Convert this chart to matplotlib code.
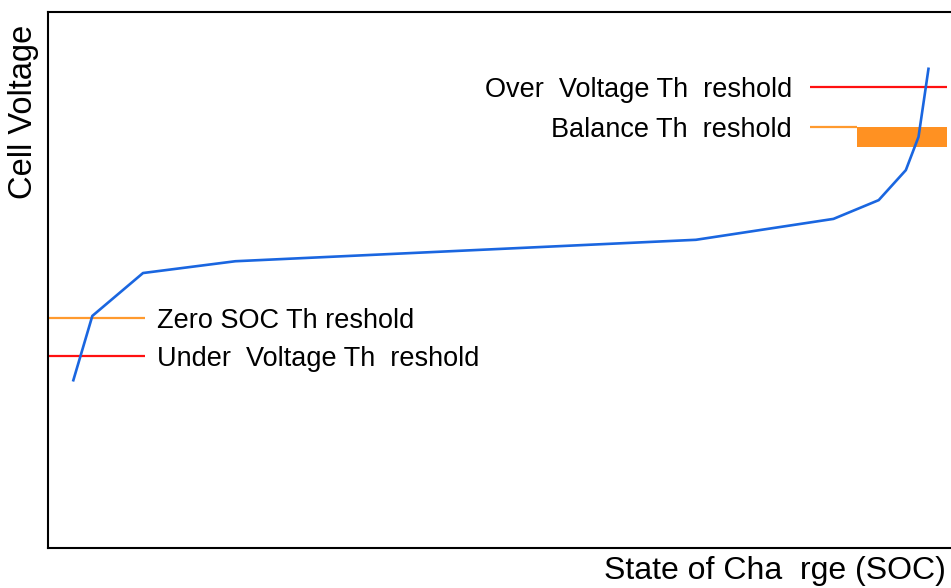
import matplotlib
matplotlib.use('Agg')
import matplotlib.pyplot as plt
from matplotlib.patches import Rectangle

# voltage curve, SOC (%) vs voltage (arbitrary units 0-100)
soc = [2.8, 4.9, 10.5, 20.7, 71.6, 86.8, 91.8, 94.8, 96.2, 96.8, 97.3]
voltage = [31.3, 43.3, 51.3, 53.5, 57.5, 61.4, 64.9, 70.5, 76.7, 83.6, 89.4]

# thresholds
over_v = 86.0
balance_v = 78.5
balance_low = 74.8
zero_soc_v = 42.9
under_v = 35.8

low_span = (0, 10.7)
high_span = (84.2, 99.3)
balance_box_x = 89.4

red = '#ff1010'
orange = '#ff9a2e'
blue = '#1a66e0'

plt.rcParams['font.family'] = ['Liberation Sans', 'DejaVu Sans']

fig = plt.figure(figsize=(9.51, 5.88), dpi=100)
ax = fig.add_axes([48 / 951, 40 / 588, 1 - 48 / 951 + 0.002, 536 / 588])
ax.set_xlim(0, 100)
ax.set_ylim(0, 100)
ax.set_xticks([])
ax.set_yticks([])
for s in ax.spines.values():
    s.set_linewidth(1.5)
ax.spines['right'].set_visible(False)

ax.hlines(zero_soc_v, *low_span, color=orange, lw=1.6)
ax.hlines(under_v, *low_span, color=red, lw=1.6)
ax.hlines(over_v, *high_span, color=red, lw=1.6)
ax.hlines(balance_v, high_span[0], balance_box_x, color=orange, lw=1.6)
ax.add_patch(Rectangle((balance_box_x, balance_low), high_span[1] - balance_box_x,
                       balance_v - balance_low, color='#ff9122', lw=0))

ax.plot(soc, voltage, color=blue, lw=1.9)

fs = 19.5
dy = -0.5  # nudge labels to sit on the lines like the original
ax.text(low_span[1] + 1.3, zero_soc_v + dy, 'Zero SOC Th reshold', fontsize=fs, va='center', ha='left')
ax.text(low_span[1] + 1.3, under_v + dy, 'Under  Voltage Th  reshold', fontsize=fs, va='center', ha='left')
ax.text(high_span[0] - 2.0, over_v + dy, 'Over  Voltage Th  reshold', fontsize=fs, va='center', ha='right')
ax.text(high_span[0] - 2.0, balance_v + dy, 'Balance Th  reshold', fontsize=fs, va='center', ha='right')

fig.text(946 / 951, 1 - 571 / 588, 'State of Cha  rge (SOC)', fontsize=23, ha='right', va='center')
fig.text(24 / 951, 1 - 112 / 588, 'Cell Voltage', fontsize=23.5, rotation=90, ha='center', va='center')

fig.savefig('out.png', dpi=100)
plt.close(fig)
